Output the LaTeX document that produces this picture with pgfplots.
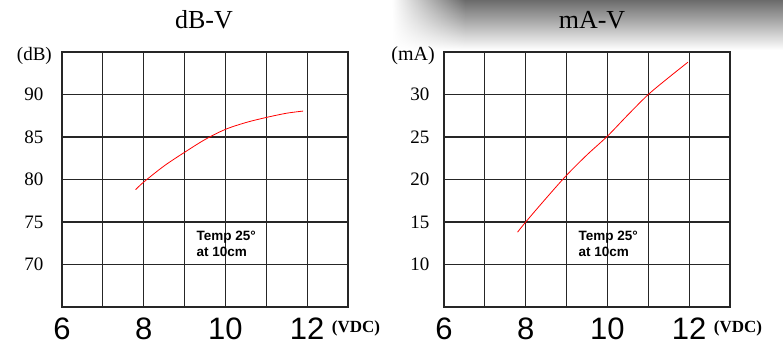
\documentclass[border=0pt]{standalone}
\usepackage{pgfplots}
\pgfplotsset{compat=1.18}
\usepackage{fontspec}
\setmainfont{Liberation Serif}
\newfontfamily\arialf{Liberation Sans}
\usetikzlibrary{fadings}
\tikzfading[name=fadein, left color=transparent!100, right color=transparent!0]
\pgfplotsset{
  chart/.style={
    scale only axis, width=286pt, height=255pt,
    xmin=6, xmax=13,
    xtick={6,...,13}, xticklabels={6,,8,,10,,12,},
    grid=major, major grid style={black!85, line width=1.1pt},
    axis line style={black!85, line width=1.1pt},
    major tick length=0pt,
    xticklabel style={font=\fontsize{31}{31}\arialf, yshift=-7pt},
    clip=false,
  }
}
\begin{document}
\begin{tikzpicture}[x=1pt,y=1pt]
\useasboundingbox (0,0) rectangle (783,361);
% shadow at top right
\shade[top color=black!58, bottom color=white, path fading=fadein] (392,361) rectangle (465,311);
\shade[top color=black!58, bottom color=white] (465,361) rectangle (783,311);
\node[font=\fontsize{26}{26}\selectfont] at (204,341) {dB-V};
\node[font=\fontsize{26}{26}\selectfont] at (592,341) {mA-V};

\begin{axis}[chart, at={(62pt,54pt)}, anchor=south west,
  ymin=65, ymax=95, ytick={65,70,...,95}, yticklabels={,70,75,80,85,90,},
  yticklabel style={font=\fontsize{19}{19}\selectfont, xshift=-15pt}]
  \addplot[red, line width=0.8pt, smooth] coordinates {
    (7.8,78.8) (8.0,79.7) (8.5,81.6) (9.0,83.2) (9.5,84.7) (10.0,85.9)
    (10.5,86.7) (11.0,87.3) (11.5,87.8) (11.9,88.05)};
  \node[anchor=east, font=\fontsize{19}{19}\selectfont, inner sep=0pt] at (rel axis cs:0,1) [xshift=-10pt, yshift=-4pt] {(dB)};
  \node[font=\fontsize{17}{17}\selectfont\bfseries, inner sep=0pt] at (rel axis cs:1,0) [xshift=8pt, yshift=-21pt] {(VDC)};
  \node[anchor=north west, align=left, font=\fontsize{13.5}{16.5}\arialf\bfseries, inner sep=0pt] at (axis cs:9.29,74.0) {Temp 25°\\at 10cm};
\end{axis}

\begin{axis}[chart, at={(444pt,54pt)}, anchor=south west,
  ymin=5, ymax=35, ytick={5,10,...,35}, yticklabels={,10,15,20,25,30,},
  yticklabel style={font=\fontsize{19}{19}\selectfont, xshift=-11pt}]
  \addplot[red, line width=0.8pt, smooth] coordinates {
    (7.8,13.8) (8.0,15.0) (8.5,17.8) (9.0,20.5) (9.5,22.9) (10.0,25.1)
    (10.5,27.6) (11.0,30.0) (11.5,32.0) (11.97,33.8)};
  \node[anchor=east, font=\fontsize{20}{20}\selectfont, inner sep=0pt] at (rel axis cs:0,1) [xshift=-9pt, yshift=-4pt] {(mA)};
  \node[font=\fontsize{17}{17}\selectfont\bfseries, inner sep=0pt] at (rel axis cs:1,0) [xshift=8pt, yshift=-21pt] {(VDC)};
  \node[anchor=north west, align=left, font=\fontsize{13.5}{16.5}\arialf\bfseries, inner sep=0pt] at (axis cs:9.29,14.0) {Temp 25°\\at 10cm};
\end{axis}
\end{tikzpicture}
\end{document}
